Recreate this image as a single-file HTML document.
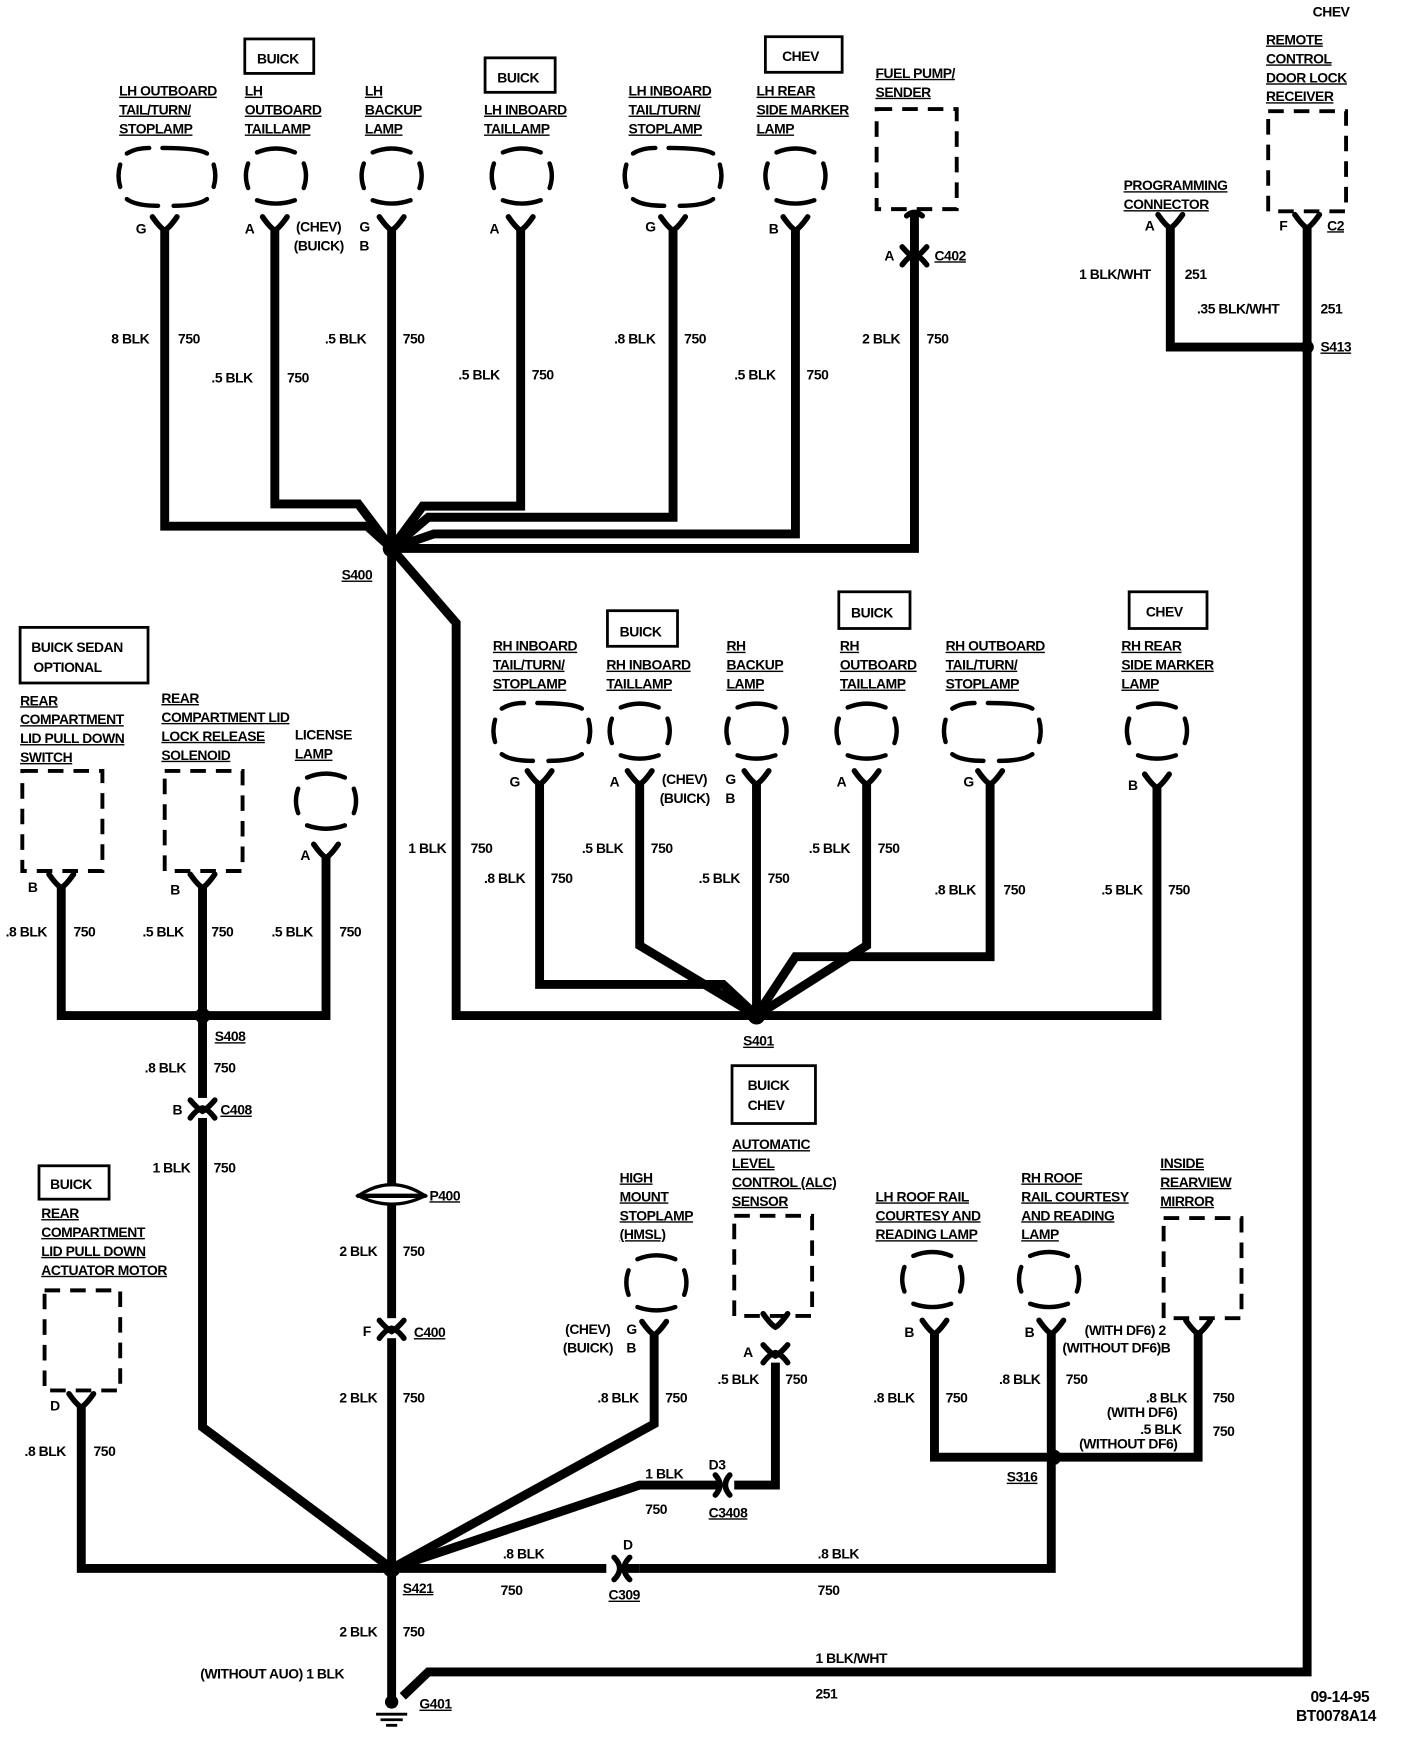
<!DOCTYPE html>
<html><head><meta charset="utf-8"><style>
html,body{margin:0;padding:0;background:#fff}
svg{display:block}
text{font-family:"Liberation Sans",Arial,sans-serif;font-weight:bold;font-size:12.5px;fill:#000;letter-spacing:-0.4px}
.u{text-decoration:underline}
.w{fill:none;stroke:#000;stroke-width:8;stroke-linejoin:miter}
.s{fill:none;stroke:#000;stroke-width:4;stroke-linecap:round}
.d{fill:none;stroke:#000;stroke-width:3.5;stroke-dasharray:14 9}
.b{fill:none;stroke:#000;stroke-width:2.5}
</style></head><body>
<svg width="1424" height="1742" viewBox="0 0 1280 1566" xmlns="http://www.w3.org/2000/svg">
<defs>
<g id="lamp">
<path class="s" d="M-17,-21 Q0,-28 17,-21"/><path class="s" d="M-17,22 Q0,28 17,22"/>
<path class="s" d="M-25,-11 Q-29,0 -25,11"/><path class="s" d="M25,-11 Q29,0 25,11"/>
</g>
<g id="wlamp">
<path class="s" d="M-36,-20 Q-28,-25 -16,-25"/><path class="s" d="M-4,-25 Q28,-25 36,-20"/>
<path class="s" d="M-36,21 Q-28,27 -8,27"/><path class="s" d="M6,27 Q28,27 36,21"/>
<path class="s" d="M-42,-10 Q-45,0 -42,10"/><path class="s" d="M42,-10 Q45,0 42,10"/>
</g>
<path id="cup" class="s" style="stroke-width:5" d="M-11,-9 Q-4,1 0,3 Q4,1 11,-9"/>
<g id="conn"><path class="s" style="stroke-width:5" d="M-11,-6 Q-4,2 0,4 Q4,2 11,-6"/><path class="s" style="stroke-width:5" d="M-11,10 Q-5,2 0,1 Q5,2 11,10"/></g>
</defs>

<!-- ===== TOP ROW ===== -->
<rect class="b" x="220" y="35" width="62" height="31"/><text x="231" y="57">BUICK</text>
<rect class="b" x="436" y="52" width="63" height="31"/><text x="447" y="74">BUICK</text>
<rect class="b" x="688" y="33" width="69" height="32"/><text x="703" y="55">CHEV</text>
<text x="1180" y="15">CHEV</text>

<text class="u" x="107" y="86">LH OUTBOARD</text><text class="u" x="107" y="103">TAIL/TURN/</text><text class="u" x="107" y="120">STOPLAMP</text>
<text class="u" x="220" y="86">LH</text><text class="u" x="220" y="103">OUTBOARD</text><text class="u" x="220" y="120">TAILLAMP</text>
<text class="u" x="328" y="86">LH</text><text class="u" x="328" y="103">BACKUP</text><text class="u" x="328" y="120">LAMP</text>
<text class="u" x="435" y="103">LH INBOARD</text><text class="u" x="435" y="120">TAILLAMP</text>
<text class="u" x="565" y="86">LH INBOARD</text><text class="u" x="565" y="103">TAIL/TURN/</text><text class="u" x="565" y="120">STOPLAMP</text>
<text class="u" x="680" y="86">LH  REAR</text><text class="u" x="680" y="103">SIDE  MARKER</text><text class="u" x="680" y="120">LAMP</text>
<text class="u" x="787" y="70">FUEL  PUMP/</text><text class="u" x="787" y="87">SENDER</text>
<text class="u" x="1138" y="40">REMOTE</text><text class="u" x="1138" y="57">CONTROL</text><text class="u" x="1138" y="74">DOOR LOCK</text><text class="u" x="1138" y="91">RECEIVER</text>
<text class="u" x="1010" y="171">PROGRAMMING</text><text class="u" x="1010" y="188">CONNECTOR</text>

<use href="#wlamp" x="150" y="158"/><use href="#lamp" x="248" y="158"/><use href="#lamp" x="352" y="158"/>
<use href="#lamp" x="469" y="158"/><use href="#wlamp" x="605" y="158"/><use href="#lamp" x="715" y="158"/>
<rect class="d" x="788" y="98" width="72" height="90"/>
<rect class="d" x="1140" y="100" width="70" height="90"/>
<use href="#cup" x="148" y="204"/><use href="#cup" x="247" y="204"/><use href="#cup" x="352" y="204"/>
<use href="#cup" x="468" y="204"/><use href="#cup" x="605" y="204"/><use href="#cup" x="715" y="204"/>
<use href="#cup" x="1052" y="202"/><use href="#cup" x="1175" y="202"/>
<path class="s" style="stroke-width:5" d="M815,194 Q822,188 829,194"/>
<use href="#conn" x="822" y="228"/>

<text x="122" y="210">G</text><text x="220" y="210">A</text><text x="266" y="208">(CHEV)</text><text x="323" y="208">G</text>
<text x="264" y="225">(BUICK)</text><text x="323" y="225">B</text>
<text x="440" y="210">A</text><text x="580" y="208">G</text><text x="691" y="210">B</text>
<text x="795" y="234">A</text><text class="u" x="840" y="234">C402</text>
<text x="1029" y="207">A</text><text x="1150" y="207">F</text><text class="u" x="1193" y="207">C2</text>

<!-- top wires -->
<path class="w" d="M148,207 V473 H330 L352,493"/>
<path class="w" d="M247,207 V453 H322 L352,493"/>
<path class="w" d="M352,207 V1410"/>
<path class="w" d="M468,207 V455 H380 L352,493"/>
<path class="w" d="M605,207 V465 H385 L352,493"/>
<path class="w" d="M715,207 V480 H390 L352,493"/>
<path class="w" d="M822,192 V493 H352"/>
<path class="w" d="M1052,205 V312 H1175"/>
<path class="w" d="M1175,205 V1503 H385 L362,1525"/>
<circle cx="352" cy="493" r="8"/><circle cx="1175" cy="312" r="6"/>
<text x="307" y="521" class="u">S400</text><text x="1187" y="316" class="u">S413</text>

<text x="100" y="309">8 BLK</text><text x="160" y="309">750</text>
<text x="190" y="344">.5  BLK</text><text x="258" y="344">750</text>
<text x="292" y="309">.5  BLK</text><text x="362" y="309">750</text>
<text x="412" y="341">.5  BLK</text><text x="478" y="341">750</text>
<text x="552" y="309">.8 BLK</text><text x="615" y="309">750</text>
<text x="660" y="341">.5  BLK</text><text x="725" y="341">750</text>
<text x="775" y="309">2 BLK</text><text x="833" y="309">750</text>
<text x="970" y="251">1 BLK/WHT</text><text x="1065" y="251">251</text>
<text x="1076" y="282">.35 BLK/WHT</text><text x="1187" y="282">251</text>

<!-- ===== RH ROW ===== -->
<path class="w" d="M352,493 L410,560 V913 H680"/>
<rect class="b" x="546" y="549" width="63" height="32"/><text x="557" y="572">BUICK</text>
<rect class="b" x="754" y="532" width="64" height="33"/><text x="765" y="555">BUICK</text>
<rect class="b" x="1015" y="532" width="70" height="33"/><text x="1030" y="554">CHEV</text>
<text class="u" x="443" y="585">RH INBOARD</text><text class="u" x="443" y="602">TAIL/TURN/</text><text class="u" x="443" y="619">STOPLAMP</text>
<text class="u" x="545" y="602">RH INBOARD</text><text class="u" x="545" y="619">TAILLAMP</text>
<text class="u" x="653" y="585">RH</text><text class="u" x="653" y="602">BACKUP</text><text class="u" x="653" y="619">LAMP</text>
<text class="u" x="755" y="585">RH</text><text class="u" x="755" y="602">OUTBOARD</text><text class="u" x="755" y="619">TAILLAMP</text>
<text class="u" x="850" y="585">RH OUTBOARD</text><text class="u" x="850" y="602">TAIL/TURN/</text><text class="u" x="850" y="619">STOPLAMP</text>
<text class="u" x="1008" y="585">RH  REAR</text><text class="u" x="1008" y="602">SIDE  MARKER</text><text class="u" x="1008" y="619">LAMP</text>
<use href="#wlamp" x="487" y="657"/><use href="#lamp" x="575" y="657"/><use href="#lamp" x="680" y="657"/>
<use href="#lamp" x="779" y="657"/><use href="#wlamp" x="892" y="657"/><use href="#lamp" x="1040" y="657"/>
<use href="#cup" x="485" y="702"/><use href="#cup" x="575" y="702"/><use href="#cup" x="680" y="702"/>
<use href="#cup" x="779" y="702"/><use href="#cup" x="890" y="702"/><use href="#cup" x="1040" y="705"/>
<text x="458" y="707">G</text><text x="548" y="707">A</text><text x="595" y="705">(CHEV)</text><text x="652" y="705">G</text>
<text x="593" y="722">(BUICK)</text><text x="652" y="722">B</text><text x="752" y="707">A</text><text x="866" y="707">G</text><text x="1014" y="710">B</text>
<path class="w" d="M485,705 V885 H650 L680,913"/>
<path class="w" d="M575,705 V850 L680,913"/>
<path class="w" d="M680,705 V913"/>
<path class="w" d="M779,705 V850 L680,913"/>
<path class="w" d="M890,705 V860 H715 L680,913"/>
<path class="w" d="M1040,708 V913 H680"/>
<circle cx="680" cy="913" r="8"/><text class="u" x="668" y="940">S401</text>
<text x="367" y="767">1 BLK</text><text x="423" y="767">750</text>
<text x="435" y="794">.8 BLK</text><text x="495" y="794">750</text>
<text x="523" y="767">.5 BLK</text><text x="585" y="767">750</text>
<text x="628" y="794">.5 BLK</text><text x="690" y="794">750</text>
<text x="727" y="767">.5 BLK</text><text x="789" y="767">750</text>
<text x="840" y="804">.8 BLK</text><text x="902" y="804">750</text>
<text x="990" y="804">.5 BLK</text><text x="1050" y="804">750</text>

<!-- ===== LEFT GROUP ===== -->
<rect class="b" x="18" y="564" width="115" height="50"/><text x="28" y="586">BUICK SEDAN</text><text x="30" y="604">OPTIONAL</text>
<text class="u" x="18" y="634">REAR</text><text class="u" x="18" y="651">COMPARTMENT</text><text class="u" x="18" y="668">LID PULL DOWN</text><text class="u" x="18" y="685">SWITCH</text>
<text class="u" x="145" y="632">REAR</text><text class="u" x="145" y="649">COMPARTMENT  LID</text><text class="u" x="145" y="666">LOCK  RELEASE</text><text class="u" x="145" y="683">SOLENOID</text>
<text x="265" y="665">LICENSE</text><text class="u" x="265" y="682">LAMP</text>
<rect class="d" x="20" y="693" width="72" height="90"/><rect class="d" x="148" y="693" width="70" height="90"/>
<use href="#lamp" x="293" y="720"/>
<use href="#cup" x="55" y="795"/><use href="#cup" x="182" y="795"/><use href="#cup" x="293" y="768"/>
<text x="25" y="802">B</text><text x="153" y="804">B</text><text x="270" y="773">A</text>
<path class="w" d="M55,798 V913 H293 V771"/>
<path class="w" d="M182,798 V1283 L352,1410"/>
<circle cx="182" cy="913" r="7"/><text class="u" x="193" y="936">S408</text>
<text x="5" y="842">.8 BLK</text><text x="66" y="842">750</text>
<text x="128" y="842">.5 BLK</text><text x="190" y="842">750</text>
<text x="244" y="842">.5 BLK</text><text x="305" y="842">750</text>
<text x="130" y="964">.8 BLK</text><text x="192" y="964">750</text>
<rect x="170" y="987" width="24" height="18" fill="#fff"/><use href="#conn" x="182" y="995"/>
<text x="155" y="1002">B</text><text class="u" x="198" y="1002">C408</text>
<text x="137" y="1054">1 BLK</text><text x="192" y="1054">750</text>

<!-- P400 / C400 -->
<path fill="#fff" stroke="#000" stroke-width="3" d="M322,1075 Q352,1055 382,1075 Q352,1090 322,1075Z"/>
<path class="s" d="M322,1075 H382"/>
<text class="u" x="386" y="1079">P400</text>
<text x="305" y="1129">2 BLK</text><text x="362" y="1129">750</text>
<rect x="340" y="1185" width="24" height="18" fill="#fff"/><use href="#conn" x="352" y="1193"/>
<text x="326" y="1201">F</text><text class="u" x="372" y="1202">C400</text>
<text x="305" y="1261">2 BLK</text><text x="362" y="1261">750</text>

<rect class="b" x="35" y="1048" width="63" height="30"/><text x="45" y="1069">BUICK</text>
<text class="u" x="37" y="1095">REAR</text><text class="u" x="37" y="1112">COMPARTMENT</text><text class="u" x="37" y="1129">LID  PULL  DOWN</text><text class="u" x="37" y="1146">ACTUATOR  MOTOR</text>
<rect class="d" x="40" y="1160" width="68" height="90"/>
<use href="#cup" x="73" y="1262"/><text x="45" y="1268">D</text>
<path class="w" d="M73,1265 V1410 H352"/>
<text x="22" y="1309">.8 BLK</text><text x="84" y="1309">750</text>

<!-- HMSL & ALC -->
<text class="u" x="557" y="1063">HIGH</text><text class="u" x="557" y="1080">MOUNT</text><text class="u" x="557" y="1097">STOPLAMP</text><text class="u" x="557" y="1114">(HMSL)</text>
<use href="#lamp" x="590" y="1153"/><use href="#cup" x="588" y="1197"/>
<text x="508" y="1199">(CHEV)</text><text x="563" y="1199">G</text><text x="506" y="1216">(BUICK)</text><text x="563" y="1216">B</text>
<path class="w" d="M588,1200 V1280 L352,1410"/>
<text x="537" y="1261">.8 BLK</text><text x="598" y="1261">750</text>
<rect class="b" x="658" y="958" width="75" height="52"/><text x="672" y="980">BUICK</text><text x="672" y="998">CHEV</text>
<text class="u" x="658" y="1033">AUTOMATIC</text><text class="u" x="658" y="1050">LEVEL</text><text class="u" x="658" y="1067">CONTROL (ALC)</text><text class="u" x="658" y="1084">SENSOR</text>
<rect class="d" x="660" y="1093" width="70" height="90"/>
<use href="#cup" x="697" y="1190"/><use href="#conn" x="697" y="1215"/>
<text x="668" y="1220">A</text>
<path class="w" d="M697,1225 V1335 H660"/>
<path class="w" d="M645,1335 H575 L352,1410"/>
<path class="s" style="stroke-width:5" d="M643,1326 Q651,1335 643,1344 M656,1326 Q648,1335 656,1344"/>
<text x="645" y="1244">.5 BLK</text><text x="706" y="1244">750</text>
<text x="580" y="1329">1 BLK</text><text x="580" y="1361">750</text><text x="637" y="1321">D3</text><text class="u" x="637" y="1364">C3408</text>

<!-- roof rail / mirror -->
<text class="u" x="787" y="1080">LH ROOF RAIL</text><text class="u" x="787" y="1097">COURTESY AND</text><text class="u" x="787" y="1114">READING LAMP</text>
<text class="u" x="918" y="1063">RH ROOF</text><text class="u" x="918" y="1080">RAIL COURTESY</text><text class="u" x="918" y="1097">AND READING</text><text class="u" x="918" y="1114">LAMP</text>
<text class="u" x="1043" y="1050">INSIDE</text><text class="u" x="1043" y="1067">REARVIEW</text><text class="u" x="1043" y="1084">MIRROR</text>
<use href="#lamp" x="838" y="1150"/><use href="#lamp" x="943" y="1150"/>
<rect class="d" x="1046" y="1095" width="70" height="90"/>
<use href="#cup" x="840" y="1196"/><use href="#cup" x="945" y="1196"/><use href="#cup" x="1077" y="1196"/>
<text x="813" y="1202">B</text><text x="921" y="1202">B</text>
<text x="975" y="1200">(WITH  DF6) 2</text><text x="955" y="1216">(WITHOUT  DF6)B</text>
<path class="w" d="M840,1199 V1310 H1077 V1199"/>
<path class="w" d="M945,1199 V1410 H352"/>
<circle cx="947" cy="1310" r="7"/><text class="u" x="905" y="1332">S316</text>
<text x="785" y="1261">.8  BLK</text><text x="850" y="1261">750</text>
<text x="898" y="1244">.8 BLK</text><text x="958" y="1244">750</text>
<text x="1030" y="1261">.8  BLK</text><text x="995" y="1274">(WITH  DF6)</text><text x="1090" y="1261">750</text>
<text x="1025" y="1289">.5  BLK</text><text x="970" y="1302">(WITHOUT  DF6)</text><text x="1090" y="1291">750</text>

<!-- bottom -->
<rect x="545" y="1400" width="30" height="20" fill="#fff"/>
<path class="s" style="stroke-width:5" d="M552,1400 Q562,1410 552,1420 M566,1400 Q556,1410 566,1420"/>
<path class="w" d="M560,1410 H575"/>
<text x="560" y="1393">D</text><text class="u" x="547" y="1438">C309</text>
<text x="452" y="1401">.8 BLK</text><text x="450" y="1434">750</text>
<text x="735" y="1401">.8 BLK</text><text x="735" y="1434">750</text>
<circle cx="352" cy="1410" r="8"/><text class="u" x="362" y="1432">S421</text>
<path class="w" d="M352,1410 V1535"/>
<text x="305" y="1471">2 BLK</text><text x="362" y="1471">750</text>
<text x="180" y="1509">(WITHOUT  AUO)  1  BLK</text>
<circle cx="352" cy="1530" r="6"/>
<path stroke="#000" stroke-width="2.5" d="M338,1541 H366 M342,1546 H362 M347,1551 H357"/>
<text class="u" x="377" y="1536">G401</text>
<text x="733" y="1495">1 BLK/WHT</text><text x="733" y="1527">251</text>
<text x="1178" y="1530" style="font-size:14px">09-14-95</text>
<text x="1165" y="1547" style="font-size:14px">BT0078A14</text>
</svg>
</body></html>
